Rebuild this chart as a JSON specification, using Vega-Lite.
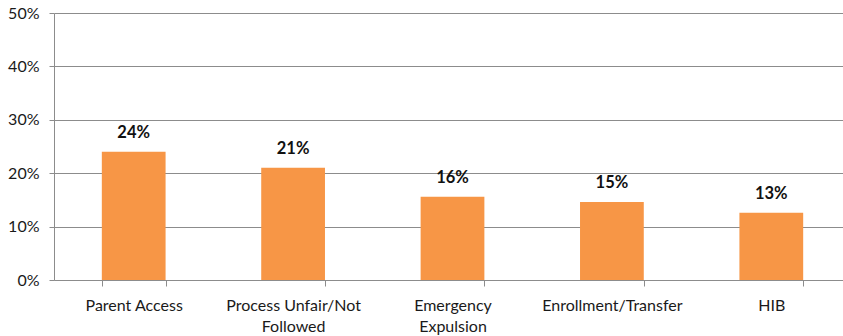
{
  "$schema": "https://vega.github.io/schema/vega-lite/v6.json",
  "width": 789,
  "height": 267,
  "autosize": {"type": "none"},
  "padding": {"left": 54, "top": 13, "right": 0, "bottom": 56},
  "background": "white",
  "config": {
    "view": {"stroke": null},
    "font": "Lato"
  },
  "data": {
    "values": [
      {"category": "Parent Access", "share": 0.24},
      {"category": "Process Unfair/Not Followed", "share": 0.21},
      {"category": "Emergency Expulsion", "share": 0.156},
      {"category": "Enrollment/Transfer", "share": 0.146},
      {"category": "HIB", "share": 0.126}
    ]
  },
  "encoding": {
    "x": {
      "field": "category",
      "type": "nominal",
      "sort": null,
      "scale": {"range": [0, 797], "paddingInner": 0.6, "paddingOuter": 0.3},
      "axis": {
        "title": null,
        "labelAngle": 0,
        "labelFont": "Lato",
        "labelFontSize": 16,
        "labelColor": "#1a1a1a",
        "labelPadding": 11,
        "labelLineHeight": 21,
        "labelBaseline": "top",
        "labelExpr": "datum.value == 'Process Unfair/Not Followed' ? ['Process Unfair/Not', 'Followed'] : datum.value == 'Emergency Expulsion' ? ['Emergency', 'Expulsion'] : datum.value",
        "domainColor": "#8c8c8c",
        "tickColor": "#8c8c8c",
        "tickBand": "extent",
        "tickSize": 6,
        "grid": false
      }
    },
    "y": {
      "field": "share",
      "type": "quantitative",
      "scale": {"domain": [0, 0.5], "nice": false},
      "axis": {
        "title": null,
        "format": ".0%",
        "values": [0, 0.1, 0.2, 0.3, 0.4, 0.5],
        "labelFont": "Lato",
        "labelFontSize": 16,
        "labelColor": "#1a1a1a",
        "labelPadding": 10,
        "domainColor": "#8c8c8c",
        "tickColor": "#8c8c8c",
        "tickSize": 5,
        "grid": true,
        "gridColor": "#8c8c8c",
        "gridWidth": 1
      }
    }
  },
  "layer": [
    {
      "mark": {"type": "bar", "color": "#F79646"}
    },
    {
      "mark": {
        "type": "text",
        "baseline": "bottom",
        "dy": -11,
        "fontSize": 16.5,
        "fontWeight": "bold",
        "color": "#111111"
      },
      "encoding": {
        "text": {"field": "share", "type": "quantitative", "format": ".0%"}
      }
    }
  ]
}
